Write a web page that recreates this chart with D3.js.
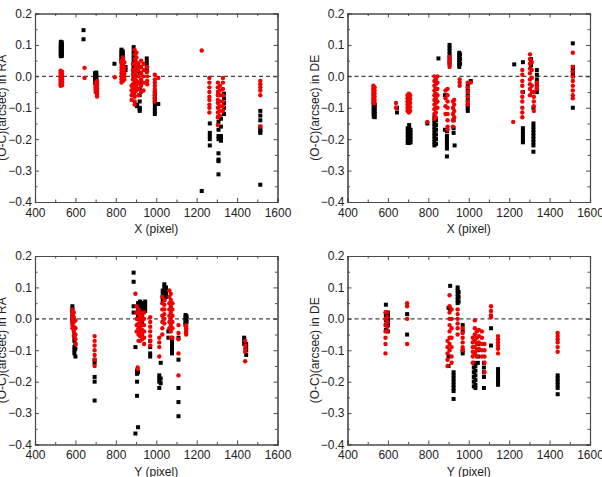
<!DOCTYPE html>
<html>
<head>
<meta charset="utf-8">
<script src="https://cdn.jsdelivr.net/npm/d3@7"></script>
<style>
  body { margin: 0; background: #fff; }
  svg { display: block; font-family: "Liberation Sans", Arial, sans-serif; }
</style>
</head>
<body>
<div id="chart"></div>
<script>
// each cluster: [pixel coordinate, [O-C values in arcsec]]
const raXBlack = [
  [528, [0.11,0.105,0.1,0.097,0.093,0.09,0.087,0.084,0.08,0.077,0.074,0.07,0.067,0.064]],
  [533, [0.108,0.1,0.095,0.088,0.082,0.076,0.07,0.065]],
  [640, [0.147,0.118]],
  [697, [0.01,0.005,0.0,-0.004,-0.008,-0.012,-0.016,-0.02]],
  [703, [0.012,0.006,0.002,-0.003,-0.007,-0.011,-0.015,-0.019,-0.024,-0.028]],
  [793, [0.04]],
  [828, [0.085,0.078,0.072,0.066,0.06,0.054,0.048]],
  [834, [0.08,0.074,0.068,0.062,0.056,0.05,0.044]],
  [848, [0.03,0.02]],
  [888, [0.093,0.08,0.07,0.058,0.048,0.04,0.032,0.025,0.018,0.01,-0.005,-0.03,-0.055]],
  [895, [0.06,0.045,0.03,0.015,0.0,-0.015]],
  [905, [-0.09,-0.095]],
  [918, [0.03,0.01,-0.02,-0.04,-0.06,-0.08,-0.1,-0.105,-0.11]],
  [953, [0.057,0.045,0.035,0.025,0.015]],
  [993, [-0.05,-0.058,-0.065,-0.072,-0.08,-0.088,-0.1,-0.11,-0.12]],
  [1010, [-0.088]],
  [1225, [-0.365]],
  [1265, [-0.15,-0.18,-0.19,-0.2,-0.22]],
  [1308, [-0.13,-0.145,-0.17,-0.19,-0.2,-0.245,-0.265,-0.27,-0.312]],
  [1320, [-0.135,-0.16,-0.19,-0.195,-0.2,-0.205]],
  [1335, [-0.055,-0.07,-0.085,-0.1,-0.12]],
  [1515, [-0.11,-0.125,-0.14,-0.16,-0.17,-0.175,-0.18,-0.345]]
];
const raXRed = [
  [527, [0.018,0.012,0.006,0.0,-0.005,-0.01,-0.015,-0.02,-0.025,-0.03]],
  [534, [0.015,0.008,0.002,-0.004,-0.009,-0.014,-0.019,-0.024,-0.028]],
  [645, [0.027,-0.005]],
  [700, [-0.02,-0.028,-0.035,-0.042,-0.05]],
  [707, [-0.015,-0.022,-0.03,-0.038,-0.045,-0.052,-0.058,-0.064]],
  [795, [-0.003]],
  [828, [0.05,0.04,0.03,0.02,0.01,0.0,-0.01,-0.02]],
  [835, [0.06,0.048,0.036,0.025,0.015,0.005,-0.005,-0.015]],
  [842, [0.045,0.03,0.02,0.01,0.0,-0.01]],
  [878, [-0.03,-0.045,-0.06,-0.075]],
  [885, [0.04,0.02,0.005,-0.01,-0.025,-0.04,-0.055]],
  [893, [0.085,0.07,0.055,0.04,0.025,0.01,-0.005,-0.02,-0.035,-0.05,-0.065,-0.08,-0.09]],
  [902, [0.075,0.06,0.045,0.03,0.015,0.0,-0.015,-0.03,-0.045]],
  [912, [0.04,0.02,0.0,-0.02,-0.04,-0.06]],
  [925, [0.05,0.03,0.01,-0.01,-0.03,-0.05]],
  [937, [0.04,0.02,0.0,-0.02,-0.045]],
  [955, [0.03,0.015,0.0,-0.015,-0.025]],
  [993, [0.005,-0.01,-0.02,-0.03,-0.04,-0.05,-0.06,-0.07,-0.08]],
  [1010, [-0.005]],
  [1225, [0.082]],
  [1263, [-0.005,-0.02,-0.035,-0.05,-0.065,-0.075,-0.09,-0.1,-0.115]],
  [1305, [-0.02,-0.035,-0.05,-0.06,-0.075,-0.085,-0.1,-0.115,-0.13,-0.155]],
  [1315, [-0.03,-0.045,-0.06,-0.08,-0.095,-0.11,-0.125]],
  [1330, [-0.005,-0.02,-0.04,-0.06,-0.08,-0.095,-0.11]],
  [1515, [-0.015,-0.025,-0.035,-0.045,-0.06,-0.16]]
];
const deXBlack = [
  [530, [-0.085,-0.092,-0.098,-0.104,-0.11,-0.116,-0.122,-0.128]],
  [535, [-0.09,-0.1,-0.11,-0.12,-0.13]],
  [645, [-0.1,-0.115]],
  [698, [-0.165,-0.175,-0.185,-0.195,-0.205,-0.212]],
  [705, [-0.155,-0.165,-0.172,-0.18,-0.188,-0.196,-0.204,-0.212]],
  [712, [-0.17,-0.18,-0.19,-0.2,-0.21]],
  [795, [-0.15]],
  [830, [-0.13,-0.14,-0.15,-0.16,-0.17,-0.18,-0.19,-0.2,-0.21,-0.22]],
  [838, [-0.14,-0.155,-0.17,-0.185,-0.2,-0.215]],
  [850, [0.057]],
  [882, [-0.06,-0.17]],
  [892, [-0.175,-0.19,-0.2,-0.21,-0.22,-0.23,-0.255]],
  [905, [0.1,0.09,0.08,0.07,0.06,0.05,0.04]],
  [925, [-0.14,-0.165,-0.18]],
  [930, [-0.22]],
  [953, [0.075,0.068,0.06,0.052,0.045,0.038,0.03]],
  [957, [0.07,0.055,0.04]],
  [995, [-0.03,-0.045,-0.06,-0.075,-0.09,-0.1,-0.11]],
  [1010, [-0.015]],
  [1225, [0.038]],
  [1268, [0.045,-0.05,-0.165,-0.175,-0.185,-0.195,-0.205,-0.21]],
  [1308, [0.055,0.045,0.035]],
  [1320, [-0.1,-0.15,-0.16,-0.17,-0.18,-0.19,-0.2,-0.21,-0.22,-0.24]],
  [1337, [0.02,0.005,-0.01,-0.025,-0.04,-0.05]],
  [1515, [0.105,0.03,0.02,0.01,0.0,-0.1]]
];
const deXRed = [
  [528, [-0.03,-0.038,-0.046,-0.054,-0.062,-0.07,-0.078,-0.086]],
  [534, [-0.035,-0.045,-0.055,-0.065,-0.075,-0.085]],
  [640, [-0.085,-0.1]],
  [697, [-0.06,-0.07,-0.08,-0.09,-0.1,-0.11]],
  [704, [-0.055,-0.065,-0.075,-0.085,-0.095,-0.105,-0.115]],
  [710, [-0.06,-0.072,-0.085,-0.098,-0.11]],
  [795, [-0.145]],
  [830, [0.0,-0.015,-0.03,-0.045,-0.06,-0.075,-0.09,-0.105,-0.12,-0.135]],
  [837, [-0.01,-0.025,-0.04,-0.055,-0.07,-0.085,-0.1,-0.115,-0.13]],
  [845, [0.0,-0.02,-0.04,-0.06,-0.08,-0.1]],
  [885, [-0.045,-0.07,-0.095,-0.12]],
  [895, [-0.04,-0.06,-0.08,-0.1,-0.12,-0.14,-0.16,-0.17]],
  [905, [0.062,0.05,0.04,0.03]],
  [922, [-0.08,-0.1,-0.12,-0.14,-0.16]],
  [928, [-0.075,-0.09,-0.11,-0.13]],
  [955, [-0.01,-0.02,-0.03]],
  [995, [-0.02,-0.035,-0.05,-0.065,-0.08,-0.09]],
  [1010, [-0.02]],
  [1220, [-0.145]],
  [1265, [0.02,0.005,-0.015,-0.03,-0.05,-0.065,-0.08,-0.1,-0.115,-0.13]],
  [1303, [0.07,0.055,0.04,0.025,0.01,-0.01,-0.025,-0.04,-0.06]],
  [1312, [0.045,0.02,-0.005,-0.03,-0.05]],
  [1322, [-0.05,-0.065,-0.08,-0.095,-0.11]],
  [1337, [-0.02,-0.03,-0.04]],
  [1515, [0.075,0.03,0.015,0.0,-0.015,-0.03,-0.045,-0.06,-0.07]]
];
const raYBlack = [
  [585, [0.04,0.03,0.02,0.01,0.0,-0.01]],
  [595, [-0.03,-0.05,-0.06,-0.07,-0.09,-0.1,-0.11]],
  [600, [-0.08,-0.095,-0.12]],
  [695, [-0.13,-0.14,-0.185,-0.2,-0.26]],
  [888, [0.147,0.118,0.04,0.02]],
  [897, [-0.09,-0.365]],
  [905, [-0.165,-0.175,-0.2,-0.245]],
  [910, [0.05,0.04,0.03,0.02,0.01,0.0,-0.17,-0.345]],
  [920, [0.055,0.045,0.035,0.025,0.015,0.005]],
  [930, [0.05,0.04,0.03,0.02,0.01,0.0,-0.01,-0.02]],
  [945, [0.055,0.045,0.035,0.025]],
  [970, [-0.07,-0.09,-0.11,-0.12]],
  [1015, [-0.18,-0.19,-0.2,-0.22]],
  [1022, [-0.14,-0.19,-0.205]],
  [1032, [0.09,0.08,0.07,0.06]],
  [1040, [0.11,0.1,0.09,0.08,0.07,0.06]],
  [1048, [0.1,0.09,0.08,0.07]],
  [1060, [-0.04,-0.06]],
  [1078, [-0.07,-0.08,-0.09,-0.1,-0.11]],
  [1110, [-0.06,-0.13,-0.22,-0.265,-0.31]],
  [1145, [0.012,0.005,-0.002,-0.008,-0.015,-0.02]],
  [1150, [0.008,0.0,-0.01]],
  [1435, [-0.06,-0.07,-0.08]],
  [1445, [-0.08,-0.09,-0.1,-0.115]]
];
const raYRed = [
  [585, [0.03,0.02,0.01,0.0,-0.01,-0.02,-0.03]],
  [592, [0.02,0.005,-0.01,-0.025,-0.04,-0.055]],
  [600, [-0.005,-0.03,-0.05,-0.065,-0.08]],
  [695, [-0.055,-0.07,-0.085,-0.1,-0.115,-0.13,-0.15]],
  [897, [0.08]],
  [903, [0.04,0.02,0.0,-0.02,-0.04]],
  [908, [-0.155,-0.16]],
  [912, [0.03,0.015,0.0,-0.015,-0.03,-0.05,-0.07]],
  [920, [0.02,0.005,-0.01,-0.025,-0.04,-0.055,-0.07]],
  [930, [0.01,-0.005,-0.02,-0.035,-0.05,-0.065]],
  [940, [0.02,0.0,-0.02,-0.04,-0.06,-0.08]],
  [970, [0.005,-0.01,-0.025,-0.04,-0.055,-0.07,-0.085]],
  [1015, [-0.06,-0.075,-0.09,-0.12]],
  [1030, [0.07,0.05,0.03,0.01,-0.01,-0.03,-0.05]],
  [1040, [0.06,0.045,0.03,0.015,0.0,-0.015]],
  [1065, [0.09,0.07,0.05,0.03,0.01,-0.01,-0.03]],
  [1072, [0.08,0.06,0.04,0.02,0.0,-0.02,-0.04,-0.06]],
  [1080, [0.05,0.03,0.01,-0.01,-0.03,-0.06]],
  [1110, [-0.02,-0.045,-0.065,-0.11,-0.18]],
  [1148, [-0.02,-0.025,-0.03,-0.035,-0.04,-0.045,-0.05]],
  [1440, [-0.07,-0.085,-0.095,-0.105,-0.135]]
];
const deYBlack = [
  [590, [0.045,0.02,0.01,-0.005,-0.02,-0.035]],
  [600, [0.02,0.01,0.0,-0.01,-0.02,-0.04]],
  [695, [0.015,-0.05]],
  [900, [0.035,-0.12,-0.15]],
  [908, [0.105,0.03]],
  [925, [-0.17,-0.18,-0.19,-0.2,-0.21,-0.22,-0.23,-0.255]],
  [945, [0.1,0.09,0.08,0.07,0.06,0.05]],
  [950, [0.085,0.07,0.055]],
  [970, [-0.02,-0.04,-0.1,-0.11]],
  [1025, [-0.14,-0.155,-0.17,-0.185,-0.2,-0.215]],
  [1033, [-0.15,-0.165,-0.18,-0.195,-0.21,-0.22]],
  [1045, [-0.08,-0.1,-0.12,-0.14]],
  [1075, [-0.14,-0.155,-0.17,-0.185,-0.22]],
  [1110, [0.01,-0.03,-0.085]],
  [1145, [-0.16,-0.17,-0.18,-0.19,-0.2,-0.21]],
  [1440, [-0.18,-0.19,-0.2,-0.21,-0.22,-0.24]]
];
const deYRed = [
  [588, [0.02,0.0,-0.02,-0.04,-0.06,-0.08,-0.11]],
  [597, [0.02,0.005,-0.01,-0.025,-0.04]],
  [695, [0.05,0.04,0.0,-0.08]],
  [895, [-0.07,-0.09,-0.11,-0.13,-0.15]],
  [905, [0.075,0.04,0.02,0.0,-0.02,-0.04,-0.06,-0.08,-0.1]],
  [915, [0.03,0.0,-0.03,-0.06,-0.09,-0.12,-0.14]],
  [945, [0.03,0.015,0.0,-0.015,-0.03,-0.05]],
  [970, [-0.03,-0.045,-0.06,-0.075,-0.09,-0.1]],
  [1020, [-0.06,-0.075,-0.09,-0.105,-0.12,-0.14]],
  [1030, [-0.005,-0.03,-0.05,-0.07,-0.09,-0.11]],
  [1040, [-0.04,-0.06,-0.08,-0.1,-0.12]],
  [1050, [-0.035,-0.055,-0.075,-0.095]],
  [1065, [-0.04,-0.06,-0.08,-0.1,-0.12]],
  [1078, [-0.08,-0.1,-0.12,-0.14,-0.17]],
  [1110, [0.04,0.025,0.01,0.005]],
  [1145, [-0.055,-0.065,-0.075,-0.085,-0.095,-0.11]],
  [1440, [-0.045,-0.055,-0.065,-0.075,-0.09,-0.105]]
];

const xTicks = [400, 600, 800, 1000, 1200, 1400, 1600];
const yTicks = [-0.4, -0.3, -0.2, -0.1, 0.0, 0.1, 0.2];

const panels = [
  {left: 35, top: 13.5, xTitle: "X (pixel)", yTitle: "(O-C)(arcsec) in RA", black: raXBlack, red: raXRed},
  {left: 347.5, top: 13.5, xTitle: "X (pixel)", yTitle: "(O-C)(arcsec) in DE", black: deXBlack, red: deXRed},
  {left: 35, top: 256, xTitle: "Y (pixel)", yTitle: "(O-C)(arcsec) in RA", black: raYBlack, red: raYRed},
  {left: 347.5, top: 256, xTitle: "Y (pixel)", yTitle: "(O-C)(arcsec) in DE", black: deYBlack, red: deYRed}
];

const W = 602, H = 477;
const pw = 242.5, ph = 188.5;
const axisColor = "#4a4a4a";

const svg = d3.select("#chart").append("svg")
  .attr("width", W)
  .attr("height", H);

function flat(clusters) {
  let out = [];
  clusters.forEach(c => c[1].forEach(v => out.push({x: c[0], y: v})));
  return out;
}

panels.forEach(function (p) {
  let g = svg.append("g").attr("transform", `translate(${p.left},${p.top})`);

  let x = d3.scaleLinear().domain([400, 1600]).range([0, pw]);
  let y = d3.scaleLinear().domain([-0.4, 0.2]).range([ph, 0]);

  // inward ticks on all four sides, minor ticks between
  let xMinor = d3.range(500, 1600, 200);
  let yMinor = [-0.35, -0.25, -0.15, -0.05, 0.05, 0.15];

  let bottom = g.append("g").attr("transform", `translate(0,${ph})`)
    .call(d3.axisBottom(x).tickValues(xTicks).tickSize(-4).tickPadding(6).tickFormat(d3.format("d")));
  g.append("g").attr("transform", `translate(0,${ph})`)
    .call(d3.axisBottom(x).tickValues(xMinor).tickSize(-2.5).tickFormat(""));
  g.append("g")
    .call(d3.axisTop(x).tickValues(xTicks).tickSize(-4).tickFormat(""));
  g.append("g")
    .call(d3.axisTop(x).tickValues(xMinor).tickSize(-2.5).tickFormat(""));

  let left = g.append("g")
    .call(d3.axisLeft(y).tickValues(yTicks).tickSize(-4).tickPadding(3).tickFormat(d3.format(".1f")));
  g.append("g")
    .call(d3.axisLeft(y).tickValues(yMinor).tickSize(-2.5).tickFormat(""));
  g.append("g").attr("transform", `translate(${pw},0)`)
    .call(d3.axisRight(y).tickValues(yTicks).tickSize(-4).tickFormat(""));
  g.append("g").attr("transform", `translate(${pw},0)`)
    .call(d3.axisRight(y).tickValues(yMinor).tickSize(-2.5).tickFormat(""));

  g.selectAll(".domain").attr("stroke", axisColor).attr("stroke-width", 1.1);
  g.selectAll(".tick line").attr("stroke", axisColor);
  g.selectAll(".tick text")
    .attr("fill", "#222")
    .style("font-size", "12px")
    .style("font-family", "'Liberation Sans', Arial, sans-serif");

  // dashed zero line
  g.append("line")
    .attr("x1", 0).attr("x2", pw)
    .attr("y1", y(0)).attr("y2", y(0))
    .attr("stroke", "#444")
    .attr("stroke-width", 1.1)
    .attr("stroke-dasharray", "4,3");

  let blackPts = flat(p.black);
  let redPts = flat(p.red);

  g.selectAll(".blk")
    .data(blackPts)
    .enter().append("rect")
    .attr("class", "blk")
    .attr("x", d => x(d.x) - 2)
    .attr("y", d => y(d.y) - 2)
    .attr("width", 4)
    .attr("height", 4)
    .attr("fill", "#000");

  g.selectAll(".red")
    .data(redPts)
    .enter().append("circle")
    .attr("class", "red")
    .attr("cx", d => x(d.x))
    .attr("cy", d => y(d.y))
    .attr("r", 2.2)
    .attr("fill", "#f00000");

  // axis titles
  g.append("text")
    .attr("x", pw / 2)
    .attr("y", ph + 31)
    .attr("text-anchor", "middle")
    .attr("fill", "#222")
    .style("font-size", "12px")
    .text(p.xTitle);

  g.append("text")
    .attr("transform", `translate(-29,${ph / 2}) rotate(-90)`)
    .attr("text-anchor", "middle")
    .attr("fill", "#222")
    .style("font-size", "12px")
    .text(p.yTitle);
});
</script>
</body>
</html>
